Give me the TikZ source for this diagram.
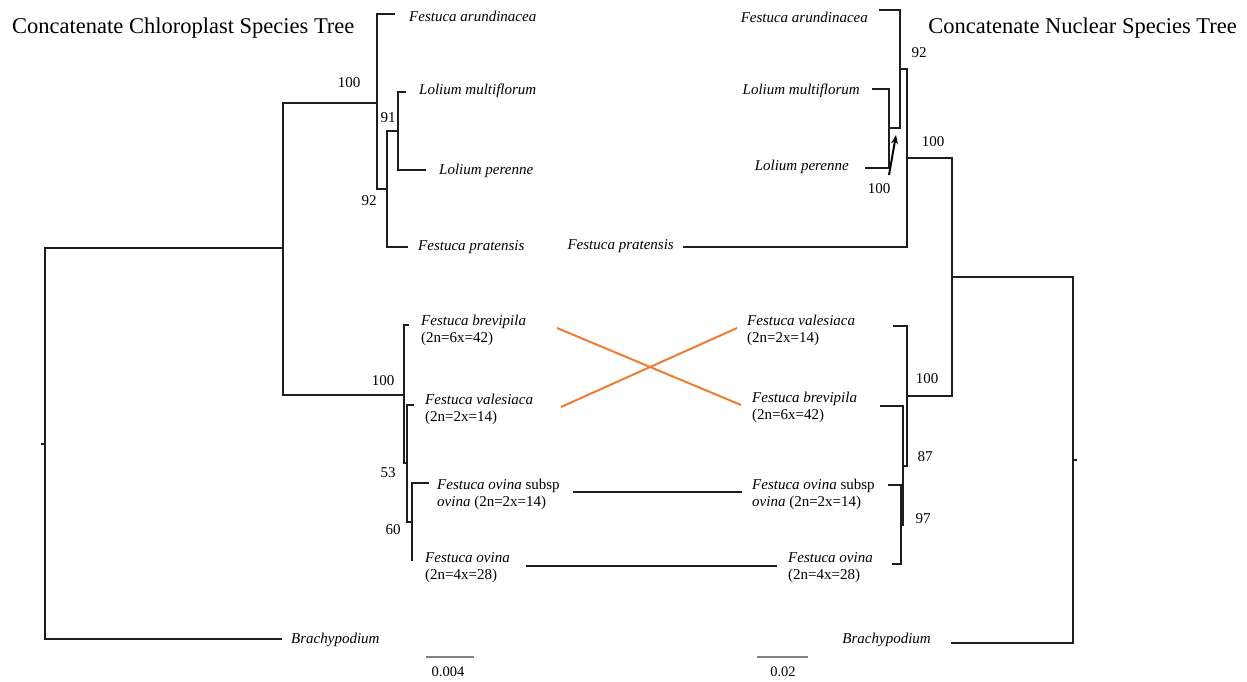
\documentclass[tikz,border=0pt]{standalone}
\usepackage{fontspec}
\setmainfont{Liberation Serif}
\usetikzlibrary{arrows.meta}
\definecolor{branch}{HTML}{1E1E1E}
\definecolor{xorange}{HTML}{ED7D31}
\definecolor{scalegray}{HTML}{808080}
\tikzset{
  br/.style={draw=branch, line width=2pt, line join=miter, line cap=rect},
  sp/.style={inner sep=0pt, font=\fontsize{15}{17}\selectfont\itshape, align=left},
  sp2/.style={inner sep=0pt, font=\fontsize{15}{17}\selectfont, align=left},
  bs/.style={inner sep=0pt, font=\fontsize{15}{17}\selectfont},
  ttl/.style={inner sep=0pt, font=\fontsize{22.5}{26}\selectfont},
  link/.style={line width=2pt},
  bar/.style={draw=scalegray, line width=2pt}
}
\begin{document}
\begin{tikzpicture}[x=1pt,y=-1pt]
\useasboundingbox[fill=white] (0,0) rectangle (1247,682);

% titles
\node[ttl, anchor=west] (t1) at (12,28) {Concatenate Chloroplast Species Tree};
\node[ttl, anchor=east] (t2) at (1237,28) {Concatenate Nuclear Species Tree};

% ---------------- left tree ----------------
\coordinate (Lroot) at (45,444);
\coordinate (Lin) at (283,248);
\coordinate (Lc1) at (377,103);
\coordinate (Lc2) at (404,395);
\coordinate (Lbrachy) at (281,639);
\coordinate (Larund) at (394,14);
\coordinate (L92) at (387,189);
\coordinate (L91) at (398,131);
\coordinate (Lprat) at (407,247);
\coordinate (Lmulti) at (405,92);
\coordinate (Lper) at (425,170);
\coordinate (Lbrev) at (408,325);
\coordinate (L53) at (407,463);
\coordinate (Lval) at (413,405);
\coordinate (L60) at (412,522);
\coordinate (Lsub) at (428,483);
\coordinate (Lovi) at (412,560);

\draw[br] (Lin) -- (Lroot |- Lin) -- (Lroot |- Lbrachy) -- (Lbrachy);
\draw[br] ([xshift=-3pt]Lroot) -- (Lroot);
\draw[br] (Lc1) -- (Lin |- Lc1) -- (Lin |- Lc2) -- (Lc2);
\draw[br] (Larund) -- (Lc1 |- Larund) -- (Lc1 |- L92) -- (L92);
\draw[br] (L91) -- (L92 |- L91) -- (L92 |- Lprat) -- (Lprat);
\draw[br] (Lmulti) -- (L91 |- Lmulti) -- (L91 |- Lper) -- (Lper);
\draw[br] (Lbrev) -- (Lc2 |- Lbrev) -- (Lc2 |- L53) -- (L53);
\draw[br] (Lval) -- (L53 |- Lval) -- (L53 |- L60) -- (L60);
\draw[br] (Lsub) -- (L60 |- Lsub) -- (L60 |- Lovi) -- (Lovi);

% left support values
\node[bs] (lb100a) at (349,83) {100};
\node[bs] (lb91) at (388,118) {91};
\node[bs] (lb92) at (369,201) {92};
\node[bs] (lb100b) at (383,381) {100};
\node[bs] (lb53) at (388,473) {53};
\node[bs] (lb60) at (393,530) {60};

% left labels
\node[sp, anchor=west] (lt1) at (409,16) {Festuca arundinacea};
\node[sp, anchor=west] (lt2) at (419,91) {Lolium multiflorum};
\node[sp, anchor=west] (lt3) at (439,171) {Lolium perenne};
\node[sp, anchor=west] (lt4) at (418,247) {Festuca pratensis};
\node[sp2, anchor=west] (lt5) at (421,330) {\textit{Festuca brevipila}\\(2n=6x=42)};
\node[sp2, anchor=west] (lt6) at (425,409) {\textit{Festuca valesiaca}\\(2n=2x=14)};
\node[sp2, anchor=west] (lt7) at (437,494) {\textit{Festuca ovina} subsp\\\textit{ovina} (2n=2x=14)};
\node[sp2, anchor=west] (lt8) at (425,568) {\textit{Festuca ovina}\\(2n=4x=28)};
\node[sp, anchor=west] (lt9) at (291,640) {Brachypodium};

% ---------------- right tree ----------------
\coordinate (Rarund) at (880,10);
\coordinate (R92) at (900,69);
\coordinate (R100a) at (889,128);
\coordinate (Rmulti) at (873,89);
\coordinate (Rper) at (866,168);
\coordinate (Rup) at (907,158);
\coordinate (Rprat) at (684,247);
\coordinate (Rin) at (952,277);
\coordinate (Rlow) at (907,396);
\coordinate (Rroot) at (1073,460);
\coordinate (Rbrachy) at (952,643);
\coordinate (Rval) at (894,326);
\coordinate (R87) at (903,466);
\coordinate (Rbrev) at (881,406);
\coordinate (R97) at (901,525);
\coordinate (Rsub) at (889,485);
\coordinate (Rovi) at (893,564);

\draw[br] (Rarund) -- (R92 |- Rarund) -- (R92 |- R100a) -- (R100a);
\draw[br] (Rmulti) -- (R100a |- Rmulti) -- (R100a |- Rper) -- (Rper);
\draw[br] (R92) -- (Rup |- R92) -- (Rup |- Rprat) -- (Rprat);
\draw[br] (Rup) -- (Rin |- Rup) -- (Rin |- Rlow) -- (Rlow);
\draw[br] (Rin) -- (Rroot |- Rin) -- (Rroot |- Rbrachy) -- (Rbrachy);
\draw[br] (Rroot) -- ([xshift=3pt]Rroot);
\draw[br] (Rval) -- (Rlow |- Rval) -- (Rlow |- R87) -- (R87);
\draw[br] (Rbrev) -- (R87 |- Rbrev) -- (R87 |- R97) -- (R97);
\draw[br] (Rsub) -- (R97 |- Rsub) -- (R97 |- Rovi) -- (Rovi);

% arrow to the Lolium node
\coordinate (arrS) at (889,175);
\coordinate (arrE) at (896,135);
\draw[draw=black, line width=2pt, -{Stealth[length=9pt,width=7pt]}] (arrS) -- (arrE);

% right support values
\node[bs] (rb92) at (919,53) {92};
\node[bs] (rb100a) at (879,189) {100};
\node[bs] (rb100b) at (933,142) {100};
\node[bs] (rb100c) at (927,379) {100};
\node[bs] (rb87) at (925,457) {87};
\node[bs] (rb97) at (923,519) {97};

% right labels
\node[sp, anchor=east] (rt1) at (868,17) {Festuca arundinacea};
\node[sp, anchor=east] (rt2) at (860,91) {Lolium multiflorum};
\node[sp, anchor=east] (rt3) at (849,167) {Lolium perenne};
\node[sp, anchor=east] (rt4) at (674,246) {Festuca pratensis};
\node[sp2, anchor=west] (rt5) at (747,330) {\textit{Festuca valesiaca}\\(2n=2x=14)};
\node[sp2, anchor=west] (rt6) at (752,407) {\textit{Festuca brevipila}\\(2n=6x=42)};
\node[sp2, anchor=west] (rt7) at (752,494) {\textit{Festuca ovina} subsp\\\textit{ovina} (2n=2x=14)};
\node[sp2, anchor=west] (rt8) at (788,568) {\textit{Festuca ovina}\\(2n=4x=28)};
\node[sp, anchor=east] (rt9) at (931,640) {Brachypodium};

% ---------------- links between trees ----------------
\coordinate (xa1) at (557,328);
\coordinate (xa2) at (741,405);
\coordinate (xb1) at (561,407);
\coordinate (xb2) at (737,328);
\coordinate (sa1) at (573,492);
\coordinate (sa2) at (742,492);
\coordinate (oa1) at (526,566);
\coordinate (oa2) at (777,566);
\draw[link, draw=xorange] (xa1) -- (xa2);
\draw[link, draw=xorange] (xb1) -- (xb2);
\draw[link, draw=branch] (sa1) -- (sa2);
\draw[link, draw=branch] (oa1) -- (oa2);

% ---------------- scale bars ----------------
\coordinate (s1a) at (426,657);
\coordinate (s1b) at (474,657);
\coordinate (s2a) at (757,657);
\coordinate (s2b) at (808,657);
\draw[bar] (s1a) -- (s1b);
\draw[bar] (s2a) -- (s2b);
\node[bs, font=\fontsize{14.5}{16}\selectfont] (sl1) at (448,672) {0.004};
\node[bs, font=\fontsize{14.5}{16}\selectfont] (sl2) at (783,672) {0.02};
\end{tikzpicture}
\end{document}
